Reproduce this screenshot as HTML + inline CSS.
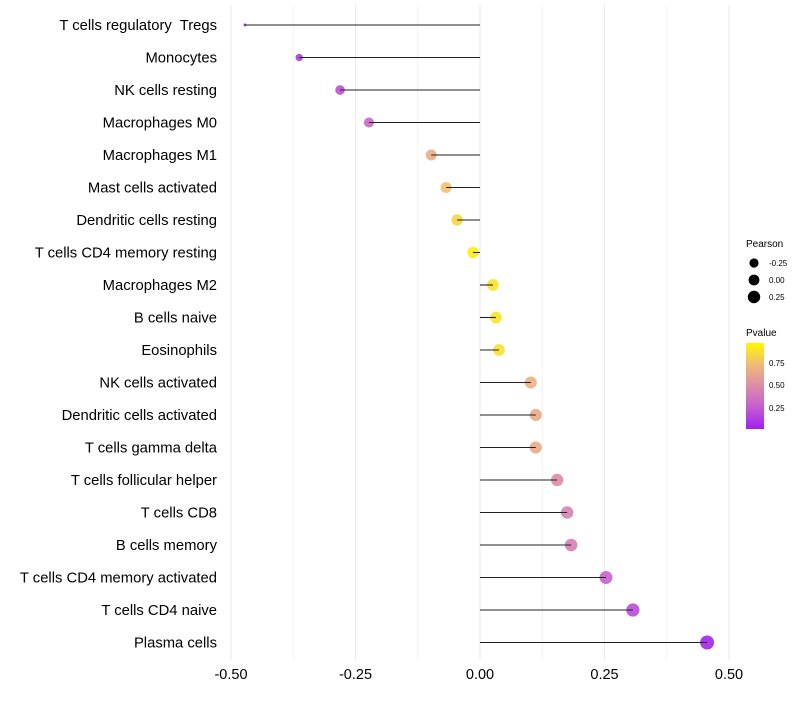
<!DOCTYPE html>
<html><head><meta charset="utf-8"><style>
body{margin:0;background:#fff;}
svg text{font-family:"Liberation Sans",sans-serif;white-space:pre;}
</style></head><body>
<svg id="chart" width="800" height="700" xmlns="http://www.w3.org/2000/svg">
<defs><linearGradient id="pg" x1="0" y1="1" x2="0" y2="0">
<stop offset="0" stop-color="#A020F0"/><stop offset="0.25" stop-color="#C45CD0"/><stop offset="0.5" stop-color="#DC8CA8"/><stop offset="0.75" stop-color="#EEBA78"/><stop offset="1" stop-color="#FFF700"/></linearGradient></defs>
<g id="grid"></g><g id="marks"></g><g id="labels"></g>
<g>
<text x="746" y="247" font-size="10">Pearson</text>
<circle cx="754" cy="263" r="4.6" fill="#000"/><text x="769" y="266" font-size="8">-0.25</text>
<circle cx="754" cy="280" r="5.4" fill="#000"/><text x="769" y="283" font-size="8">0.00</text>
<circle cx="754" cy="297" r="6.2" fill="#000"/><text x="769" y="300" font-size="8">0.25</text>
<text x="746" y="336" font-size="10">Pvalue</text>
<rect x="746" y="343" width="18" height="86" fill="url(#pg)"/>
<text x="769" y="366" font-size="8">0.75</text>
<text x="769" y="388" font-size="8">0.50</text>
<text x="769" y="411" font-size="8">0.25</text>
</g>
</svg>
<script>
const categories=["T cells regulatory  Tregs","Monocytes","NK cells resting","Macrophages M0","Macrophages M1","Mast cells activated","Dendritic cells resting","T cells CD4 memory resting","Macrophages M2","B cells naive","Eosinophils","NK cells activated","Dendritic cells activated","T cells gamma delta","T cells follicular helper","T cells CD8","B cells memory","T cells CD4 memory activated","T cells CD4 naive","Plasma cells"];
const pearson=[-0.472,-0.363,-0.281,-0.223,-0.098,-0.068,-0.046,-0.014,0.026,0.032,0.038,0.102,0.112,0.112,0.155,0.175,0.183,0.253,0.307,0.456];
const pvalue=[0.03,0.1,0.2,0.3,0.68,0.78,0.86,0.97,0.92,0.92,0.9,0.7,0.67,0.67,0.5,0.45,0.43,0.28,0.18,0.02];
const xTicks=[-0.5,-0.25,0,0.25,0.5];
const xTickLabels=["-0.50","-0.25","0.00","0.25","0.50"];
const NS="http://www.w3.org/2000/svg";
const x=v=>480+v*498;
const y=i=>25+i*32.5;
const rad=v=>Math.sqrt(v>-0.36?Math.max(2.25,33+35*v):Math.max(2.25,2.25+(v+0.472)*104));
const stops=[[0,[160,32,240]],[0.25,[196,92,208]],[0.5,[220,140,168]],[0.75,[238,186,120]],[1,[255,247,0]]];
function col(p){for(let k=1;k<stops.length;k++){if(p<=stops[k][0]){const a=stops[k-1],b=stops[k],t=(p-a[0])/(b[0]-a[0]);return 'rgb('+a[1].map((c,j)=>Math.round(c+(b[1][j]-c)*t)).join(',')+')';}}return 'rgb(255,247,0)';}
function mk(t,at,parent){const e=document.createElementNS(NS,t);for(const k in at)e.setAttribute(k,at[k]);document.getElementById(parent).appendChild(e);return e;}
for(let v=-0.5;v<=0.5001;v+=0.125){const g=mk('line',{x1:x(v),x2:x(v),y1:5,y2:660,stroke:'#ebebeb','stroke-width':Math.abs((v*4)%1)<0.01?1.1:0.6},'grid');

}
xTicks.forEach((v,i)=>{const t=mk('text',{x:x(v),y:679,'font-size':14.5,'text-anchor':'middle',fill:'#000'},'labels');t.textContent=xTickLabels[i];

});
categories.forEach((c,i)=>{
const t=mk('text',{x:217,y:y(i)+5,'font-size':14.8,'text-anchor':'end',fill:'#000'},'labels');t.textContent=c;


const d=mk('circle',{cx:x(pearson[i]),cy:y(i),r:rad(pearson[i]),fill:col(pvalue[i]),'fill-opacity':0.9},'marks');


const s=mk('line',{x1:x(0),x2:x(pearson[i]),y1:y(i),y2:y(i),stroke:'#222','stroke-width':1.1},'marks');


});
</script>
</body></html>
